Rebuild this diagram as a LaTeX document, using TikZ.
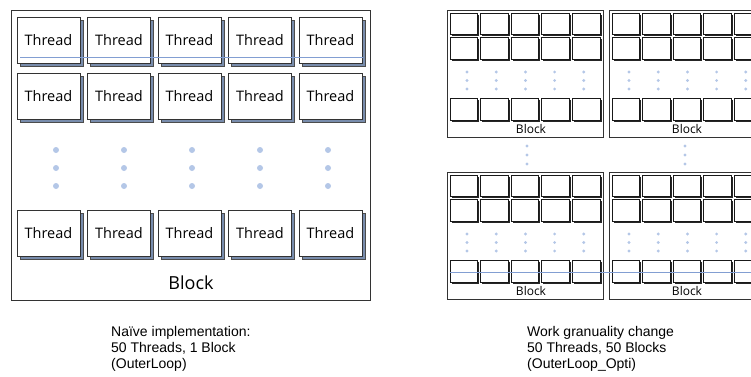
\documentclass[tikz,border=0pt]{standalone}
\usepackage{fontspec}
\setmainfont{Open Sans}
\newfontfamily\capfont{Liberation Sans}
\usetikzlibrary{shadows}
\definecolor{threadshade}{RGB}{120,140,172}
\definecolor{dotblue}{RGB}{180,199,231}
\definecolor{guideblue}{RGB}{130,158,210}
\tikzset{
	threadbox/.style={draw=black!80, fill=white, line width=0.7pt, minimum width=63pt, minimum height=46pt, inner sep=0pt,
		font=\fontsize{14.5}{15}\selectfont,
		general shadow={fill=threadshade, draw=black!70, shadow xshift=3pt, shadow yshift=-3pt}},
	minibox/.style={draw=black!90, fill=white, line width=0.9pt, minimum width=27.6pt, minimum height=21.5pt, inner sep=0pt,
		general shadow={fill=black!85, shadow xshift=1.6pt, shadow yshift=-1.6pt}},
	blockframe/.style={draw=black!80, line width=0.8pt, inner sep=0pt},
	caption/.style={anchor=north west, align=left, inner sep=0pt, font=\capfont\fontsize{14}{16}\selectfont},
}
\begin{document}
\begin{tikzpicture}[x=1pt,y=-1pt]
	\clip (0,0) rectangle (751,376);
	% one block, 50 threads
	\node[blockframe, minimum width=359pt, minimum height=290pt] (big) at (190.5,155) {};
	\foreach \r/\y in {1/40, 2/96.5, 3/233}
		\foreach \c in {0,...,4}
			\node[threadbox] (th-\r-\c) at (48.5+70.5*\c,\y) {Thread};
	\foreach \c in {0,...,4}
		\foreach \y in {150,168,186}
			\fill[dotblue] (56+68*\c,\y) circle (3);
	\node[font=\fontsize{18}{20}\selectfont] (bigname) at (191,283) {Block};
	\draw[guideblue, line width=0.6pt] (20,57) -- (363,57);
	% 50 blocks
	\foreach \bx/\by/\lx/\nm in {447/10/531/A, 609/10/687/B, 447/172/531/C, 609/172/687/D} {
		\node[blockframe, minimum width=156pt, minimum height=127.5pt] (blk\nm) at (\bx+78,\by+63.75) {};
		\foreach \r/\dy in {1/13.75, 2/38.25, 3/99.5}
			\foreach \c in {0,...,4}
				\node[minibox] (\nm-\r-\c) at (\bx+16.8+30.6*\c,\by+\dy) {};
		\foreach \c in {0,...,4}
			\foreach \dy in {62,70.5,79}
				\fill[dotblue] (\bx+20+29.2*\c,\by+\dy) circle (1.6);
		\node[font=\fontsize{12}{14}\selectfont] (name\nm) at (\lx,\by+119) {Block};
	}
	\foreach \x in {527,685}
		\foreach \y in {146,155,164}
			\fill[dotblue] (\x,\y) circle (1.6);
	\draw[guideblue, line width=0.6pt] (450,272) -- (751,272);
	% captions
	\node[caption] (capnaive) at (111,326.5) {Naïve implementation:\\50 Threads, 1 Block\\(OuterLoop)};
	\node[caption] (capopti) at (527,326.5) {Work granuality change\\50 Threads, 50 Blocks\\(OuterLoop\_Opti)};
\end{tikzpicture}
\end{document}
